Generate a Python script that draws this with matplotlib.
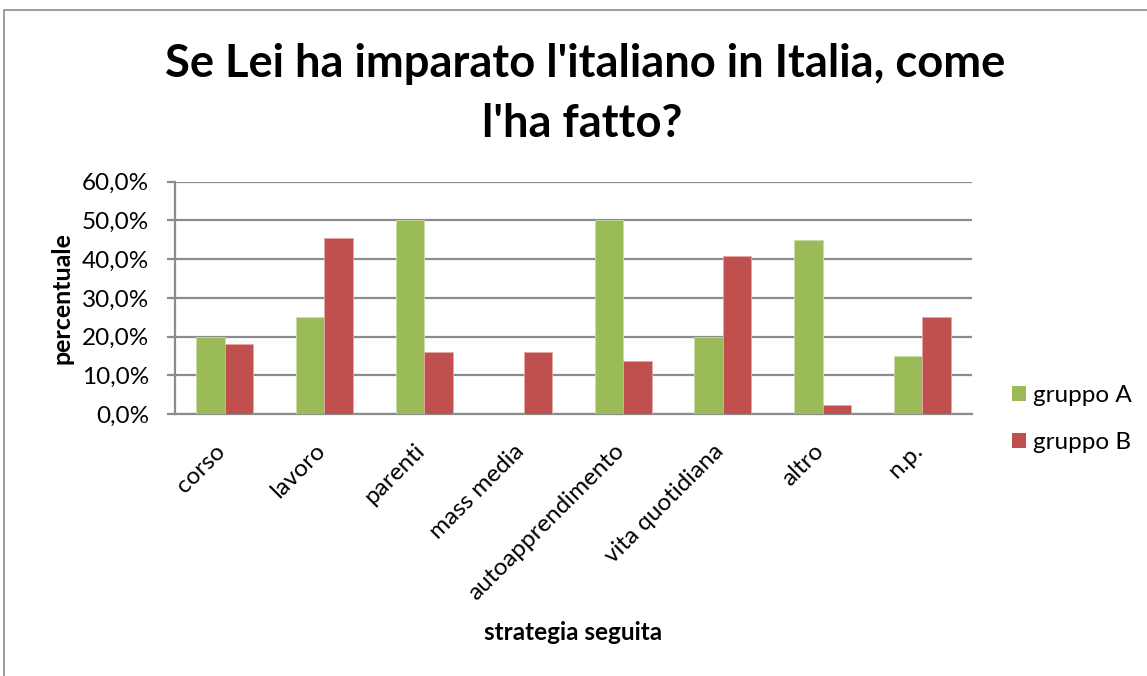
import matplotlib
matplotlib.use("Agg")
import matplotlib.pyplot as plt
from matplotlib.patches import Rectangle, Patch
from matplotlib.ticker import FuncFormatter
import matplotlib.transforms as mtransforms
import numpy as np

categories = ["corso", "lavoro", "parenti", "mass media", "autoapprendimento",
              "vita quotidiana", "altro", "n.p."]
gruppo_a = [0.20, 0.25, 0.50, 0.0, 0.50, 0.20, 0.45, 0.15]
gruppo_b = [0.182, 0.455, 0.159, 0.159, 0.136, 0.409, 0.023, 0.25]
series_names = ["gruppo A", "gruppo B"]
y_ticks = [0.0, 0.1, 0.2, 0.3, 0.4, 0.5, 0.6]
title_lines = ["Se Lei ha imparato l'italiano in Italia, come", "l'ha fatto?"]

FONT = "Lato"
GREEN = "#9BBB59"
RED = "#C0504D"
GRID = "#8C8C8C"
FS = 17.5

W, H = 1147, 676
fig = plt.figure(figsize=(W / 100, H / 100), dpi=100)

# outer chart border (extends beyond right/bottom)
fig.patches.append(Rectangle((4 / W, -0.1), 1.2, 1 - 10 / H + 0.1, transform=fig.transFigure,
                             fill=False, edgecolor="#8C8C8C", linewidth=1.2))

left, right, bottom, top = 175 / W, 972 / W, 1 - 414 / H, 1 - 181.7 / H
ax = fig.add_axes([left, bottom, right - left, top - bottom])

x = np.arange(len(categories))
bw = 1 / 3.5
ax.bar(x - bw / 2, gruppo_a, width=bw, color=GREEN, edgecolor="#C9DBA6", linewidth=0.6, zorder=3)
ax.bar(x + bw / 2, gruppo_b, width=bw, color=RED, edgecolor="#E3A8A6", linewidth=0.6, zorder=3)

ax.set_xlim(-0.5, len(categories) - 0.5)
ax.set_ylim(0, 0.6)
ax.set_yticks(y_ticks)
ax.yaxis.set_major_formatter(FuncFormatter(lambda v, p: f"{v*100:.1f}%".replace(".", ",")))
ax.grid(axis="y", color=GRID, linewidth=1.6, zorder=0)
ax.set_axisbelow(True)
for s in ["top", "right"]:
    ax.spines[s].set_visible(False)
for s in ["left", "bottom"]:
    ax.spines[s].set_color(GRID)
    ax.spines[s].set_linewidth(1.6)
ax.tick_params(axis="y", length=6, width=1.6, color=GRID, pad=12.5, labelsize=FS)
for lab in ax.get_yticklabels():
    lab.set_fontfamily(FONT)
ax.set_xticks(x)
ax.set_xticklabels(categories, rotation=45, ha="right", va="baseline", rotation_mode="anchor",
                   fontsize=FS, fontfamily=FONT)
ax.tick_params(axis="x", length=0, pad=27.5)
offset = mtransforms.ScaledTranslation(2 / 100, 0, fig.dpi_scale_trans)
for lab in ax.get_xticklabels():
    lab.set_transform(lab.get_transform() + offset)

fig.text(585 / W, 1 - 77 / H, title_lines[0], ha="center", va="baseline",
         fontsize=32.7, fontweight="bold", fontfamily=FONT)
fig.text(582 / W, 1 - 137 / H, title_lines[1], ha="center", va="baseline",
         fontsize=32.7, fontweight="bold", fontfamily=FONT)
fig.text(62 / W, 1 - 298.5 / H, "percentuale", rotation=90, ha="center", va="center",
         fontsize=18, fontweight="bold", fontfamily=FONT)
fig.text(573 / W, 1 - 633 / H, "strategia seguita", ha="center", va="center",
         fontsize=17.5, fontweight="bold", fontfamily=FONT)

handles = [Patch(facecolor=GREEN), Patch(facecolor=RED)]
fig.legend(handles, series_names, loc="center left", bbox_to_anchor=(1000 / W, 1 - 419 / H),
           frameon=False, borderpad=0, handlelength=0.58, handleheight=0.58, handletextpad=0.29,
           labelspacing=1.05, prop={"family": FONT, "size": FS})

fig.savefig("out.png", dpi=100)
